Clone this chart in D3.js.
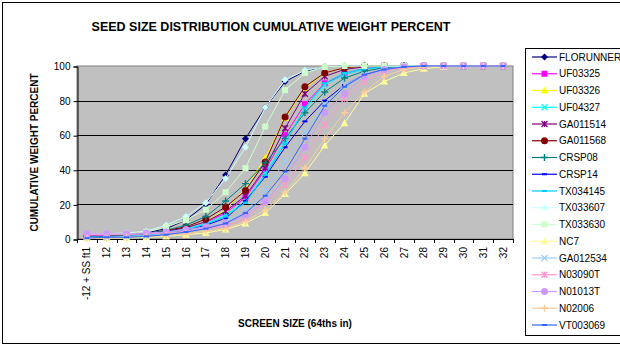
<!DOCTYPE html>
<html>
<head>
<meta charset="utf-8">
<script src="https://cdn.jsdelivr.net/npm/d3@7"></script>
<style>
  body { margin: 0; background: #fff; }
  svg { display: block; font-family: "Liberation Sans", Arial, sans-serif; }
</style>
</head>
<body>
<svg id="chart" width="620" height="347"></svg>
<script>
const categories = ["-12 + SS ft1", "12", "13", "14", "15", "16", "17", "18", "19", "20", "21",
  "22", "23", "24", "25", "26", "27", "28", "29", "30", "31", "32"];
const yTicks = [0, 20, 40, 60, 80, 100];

const seriesNames = ["FLORUNNER", "UF03325", "UF03326", "UF04327", "GA011514", "GA011568", "CRSP08",
  "CRSP14", "TX034145", "TX033607", "TX033630", "NC7", "GA012534", "N03090T", "N01013T", "N02006", "VT003069"];

const florunner = [2, 2, 2.5, 3.5, 6, 11, 20, 37, 58, 76, 91, 97, 99.5, 100, 100, 100, 100, 100, 100, 100, 100, 100];
const uf03325 = [2, 2, 2.5, 3, 4.5, 6.5, 9.5, 15, 24, 40, 60, 78, 90, 95, 98.5, 99.5, 100, 100, 100, 100, 100, 100];
const uf03326 = [1, 1, 1.5, 2.5, 4, 6, 10, 17, 29, 47, 70, 87, 96, 99, 100, 100, 100, 100, 100, 100, 100, 100];
const uf04327 = [1.5, 1.5, 2, 2.5, 4, 6, 9, 14, 22, 38, 57, 75, 89, 95, 98, 99.5, 100, 100, 100, 100, 100, 100];
const ga011514 = [1.5, 1.5, 2, 3, 4.5, 6.5, 10, 16, 25, 41, 64, 84, 94, 98, 99.5, 100, 100, 100, 100, 100, 100, 100];
const ga011568 = [1.5, 1.5, 2, 3, 5, 7, 11.5, 18.5, 28, 44.5, 70.5, 88, 96, 99, 100, 100, 100, 100, 100, 100, 100, 100];
const crsp08 = [1.5, 1.5, 2, 3, 5, 8, 13, 22, 32, 44, 58, 73, 85, 93, 97, 99, 100, 100, 100, 100, 100, 100];
const crsp14 = [1, 1, 1.5, 2, 3, 5, 8, 12, 22, 36, 53, 68, 80, 89, 95, 98, 99.5, 100, 100, 100, 100, 100];
const tx034145 = [1, 1, 1.5, 2.5, 3.5, 5.5, 8.5, 13, 21, 37, 55, 76, 90, 96, 98.5, 99.5, 100, 100, 100, 100, 100, 100];
const tx033607 = [3, 3, 3.5, 4.5, 8, 13, 21, 35, 53, 76, 92, 97.5, 99.5, 100, 100, 100, 100, 100, 100, 100, 100, 100];
const tx033630 = [2.5, 2.5, 3, 4, 7, 11, 17, 27, 41, 65, 86, 96, 99.5, 100, 100, 100, 100, 100, 100, 100, 100, 100];
const nc7 = [0.5, 0.5, 0.5, 1, 1.5, 2.5, 3.5, 5.5, 9, 15, 26, 38, 54, 67, 84, 91, 96, 98.5, 99.5, 100, 100, 100];
const ga012534 = [1, 1, 1.5, 2, 3, 4.5, 7, 10, 16, 28, 45, 62, 78, 89, 95, 98, 99.5, 100, 100, 100, 100, 100];
const n03090t = [2.5, 2.5, 2.5, 3, 3.5, 4.5, 6, 7.5, 12, 21, 31, 47, 66, 81, 91, 97, 99, 100, 100, 100, 100, 100];
const n01013t = [3, 3, 3, 3.5, 4, 5.5, 7, 9, 14, 21.5, 35, 53, 73, 84, 94, 98, 99.5, 100, 100, 100, 100, 100];
const n02006 = [0.5, 0.5, 1, 1.5, 2, 3, 4.5, 6, 10, 17, 27, 41, 58, 73, 85, 94, 98, 99.5, 100, 100, 100, 100];
const vt003069 = [0.5, 1, 1, 1.5, 2.5, 4, 6, 9, 15, 25, 39, 58, 77, 88, 95, 98, 99.5, 100, 100, 100, 100, 100];

const seriesValues = [florunner, uf03325, uf03326, uf04327, ga011514, ga011568, crsp08, crsp14, tx034145,
  tx033607, tx033630, nc7, ga012534, n03090t, n01013t, n02006, vt003069];

const colors = ["#000080", "#ff00ff", "#ffff00", "#00ffff", "#800080", "#800000", "#008080", "#0000ff",
  "#00ccff", "#ccffff", "#ccffcc", "#ffff99", "#99ccff", "#ff99cc", "#cc99ff", "#ffcc99", "#3366ff"];
const markers = ["diamond", "square", "triangle", "x", "star", "circle", "plus", "dash", "dash",
  "diamond", "square", "triangle", "x", "star", "circle", "plus", "dash"];

const series = seriesNames.map((name, i) => ({
  name, color: colors[i], marker: markers[i],
  values: seriesValues[i].map((v, j) => ({ cat: categories[j], v }))
}));

const svg = d3.select("#chart");
const plot = { left: 77, right: 513, top: 66, bottom: 239 };

// outer chart border
svg.append("rect")
  .attr("x", 2.5).attr("y", 2.5).attr("width", 640).attr("height", 341)
  .attr("fill", "#fff").attr("stroke", "#000");

svg.append("text")
  .attr("x", 271).attr("y", 31)
  .attr("text-anchor", "middle")
  .attr("font-size", 12.5).attr("font-weight", "bold")
  .text("SEED SIZE DISTRIBUTION CUMULATIVE WEIGHT PERCENT");

const x = d3.scaleBand().domain(categories).range([plot.left, plot.right]).padding(0);
const y = d3.scaleLinear().domain([0, 100]).range([plot.bottom, plot.top]);

svg.append("rect")
  .attr("x", plot.left).attr("y", plot.top)
  .attr("width", plot.right - plot.left).attr("height", plot.bottom - plot.top)
  .attr("fill", "#c0c0c0").attr("stroke", "#808080");

// gridlines
svg.append("g").selectAll("line")
  .data(yTicks.filter(d => d > 0 && d < 100))
  .join("line")
  .attr("x1", plot.left).attr("x2", plot.right)
  .attr("y1", d => Math.round(y(d)) + 0.5).attr("y2", d => Math.round(y(d)) + 0.5)
  .attr("stroke", "#000");

// y axis
const yAxis = d3.axisLeft(y).tickValues(yTicks).tickSize(4).tickPadding(3);
const yg = svg.append("g")
  .attr("transform", `translate(${plot.left + 0.5},0.5)`)
  .call(yAxis);
yg.selectAll("text").attr("font-size", 10).attr("font-family", "Liberation Sans, Arial, sans-serif");
yg.selectAll("line, path").attr("stroke", "#000");

// x axis: ticks at category boundaries, labels at centres
const xg = svg.append("g");
xg.append("line")
  .attr("x1", plot.left).attr("x2", plot.right)
  .attr("y1", plot.bottom + 0.5).attr("y2", plot.bottom + 0.5)
  .attr("stroke", "#000");
xg.selectAll(".tick")
  .data(categories.map(c => x(c)).concat([x.range()[1]]))
  .join("line")
  .attr("class", "tick")
  .attr("x1", d => Math.round(d) + 0.5).attr("x2", d => Math.round(d) + 0.5)
  .attr("y1", plot.bottom).attr("y2", plot.bottom + 4)
  .attr("stroke", "#000");
xg.selectAll(".lbl")
  .data(categories)
  .join("text")
  .attr("class", "lbl")
  .attr("transform", d => `translate(${x(d) + x.bandwidth() / 2 + 3.5},${plot.bottom + 8}) rotate(-90)`)
  .attr("text-anchor", "end")
  .attr("font-size", 10)
  .text(d => d);

svg.append("text")
  .attr("x", 295).attr("y", 327)
  .attr("text-anchor", "middle")
  .attr("font-size", 10).attr("font-weight", "bold")
  .text("SCREEN SIZE (64ths in)");

svg.append("text")
  .attr("transform", `translate(38,${(plot.top + plot.bottom) / 2}) rotate(-90)`)
  .attr("text-anchor", "middle")
  .attr("font-size", 10).attr("font-weight", "bold")
  .text("CUMULATIVE WEIGHT PERCENT");

// markers
function drawMarker(g, type, color, size) {
  const s = size;
  if (type === "diamond") {
    g.append("path").attr("d", `M0,${-s}L${s},0L0,${s}L${-s},0Z`).attr("fill", color);
  } else if (type === "square") {
    g.append("rect").attr("x", -s + 0.5).attr("y", -s + 0.5).attr("width", 2 * s - 1).attr("height", 2 * s - 1).attr("fill", color);
  } else if (type === "triangle") {
    g.append("path").attr("d", `M0,${-s}L${s},${s * 0.8}L${-s},${s * 0.8}Z`).attr("fill", color);
  } else if (type === "circle") {
    g.append("circle").attr("r", s).attr("fill", color);
  } else if (type === "x") {
    g.append("path").attr("d", `M${-s},${-s}L${s},${s}M${-s},${s}L${s},${-s}`).attr("stroke", color).attr("stroke-width", 1.2);
  } else if (type === "plus") {
    g.append("path").attr("d", `M${-s},0L${s},0M0,${-s}L0,${s}`).attr("stroke", color).attr("stroke-width", 1.4);
  } else if (type === "star") {
    g.append("path").attr("d", `M${-s},${-s}L${s},${s}M${-s},${s}L${s},${-s}M0,${-s}L0,${s}`).attr("stroke", color).attr("stroke-width", 1.3);
  } else if (type === "dash") {
    g.append("rect").attr("x", -2.5).attr("y", -1).attr("width", 5).attr("height", 2).attr("fill", color);
  }
}
const markerSize = { diamond: 3.5, square: 3.5, triangle: 3.8, circle: 3.5, x: 3, plus: 3.5, star: 3, dash: 3 };

const line = d3.line()
  .x(d => x(d.cat) + x.bandwidth() / 2)
  .y(d => y(d.v));

const layer = svg.append("g");
series.forEach(s => {
  layer.append("path")
    .datum(s.values)
    .attr("d", line)
    .attr("fill", "none")
    .attr("stroke", s.color)
    .attr("stroke-width", 1);
  s.values.forEach(d => {
    const g = layer.append("g")
      .attr("transform", `translate(${x(d.cat) + x.bandwidth() / 2},${y(d.v)})`);
    drawMarker(g, s.marker, s.color, markerSize[s.marker]);
  });
});

// legend
const legend = svg.append("g");
legend.append("rect")
  .attr("x", 525.5).attr("y", 48.5).attr("width", 110).attr("height", 287)
  .attr("fill", "#fff").attr("stroke", "#000");
series.forEach((s, i) => {
  const ly = 57 + i * 16.75;
  legend.append("line")
    .attr("x1", 532).attr("x2", 557).attr("y1", ly).attr("y2", ly)
    .attr("stroke", s.color).attr("stroke-width", 1.2);
  const g = legend.append("g").attr("transform", `translate(544.5,${ly})`);
  drawMarker(g, s.marker, s.color, markerSize[s.marker]);
  legend.append("text")
    .attr("x", 559).attr("y", ly + 3.5)
    .attr("font-size", 10)
    .text(s.name);
});
</script>
</body>
</html>
